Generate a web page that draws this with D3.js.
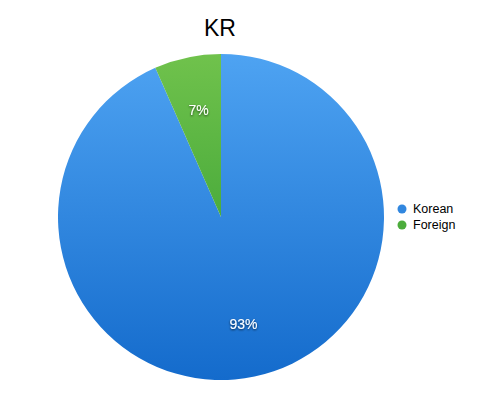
<!DOCTYPE html>
<html>
<head>
<meta charset="utf-8">
<script src="https://cdn.jsdelivr.net/npm/d3@7"></script>
<style>
  body { margin: 0; background: #fff; }
  text { font-family: "Liberation Sans", Arial, sans-serif; }
</style>
</head>
<body>
<div id="chart"></div>
<script>
// data
var categories = ["Korean", "Foreign"];
var values = [93.4, 6.6];
var colorsTop = ["#4ea3f2", "#70c24c"];
var colorsBottom = ["#146bcc", "#27962c"];

var w = 500, h = 400;
var cx = 221, cy = 217, r = 163;

var svg = d3.select("#chart")
  .append("svg")
  .attr("width", w)
  .attr("height", h);

// gradients for each slice (top light -> bottom dark)
var defs = svg.append("defs");
categories.forEach(function(c, i) {
  var grad = defs.append("linearGradient")
    .attr("id", "grad" + i)
    .attr("gradientUnits", "userSpaceOnUse")
    .attr("x1", 0).attr("y1", -r)
    .attr("x2", 0).attr("y2", r);
  grad.append("stop").attr("offset", "0%").attr("stop-color", colorsTop[i]);
  grad.append("stop").attr("offset", "100%").attr("stop-color", colorsBottom[i]);
});

var shadow = defs.append("filter").attr("id", "shadow")
  .attr("x", "-20%").attr("y", "-20%").attr("width", "140%").attr("height", "140%");
shadow.append("feDropShadow")
  .attr("dx", 0).attr("dy", 1).attr("stdDeviation", 0.8)
  .attr("flood-color", "#000").attr("flood-opacity", 0.7);

// title
svg.append("text")
  .attr("x", 220)
  .attr("y", 36)
  .attr("text-anchor", "middle")
  .style("font-size", "23px")
  .style("fill", "#000")
  .text("KR");

// pie, clockwise from 12 o'clock
var pie = d3.pie().sort(null).value(function(d) { return d; });
var arcs = pie(values);
var arc = d3.arc().innerRadius(0).outerRadius(r);
var labelArc = d3.arc().innerRadius(r * 0.67).outerRadius(r * 0.67);

var g = svg.append("g")
  .attr("transform", "translate(" + cx + "," + cy + ")");

g.selectAll("path")
  .data(arcs)
  .enter()
  .append("path")
  .attr("d", arc)
  .attr("fill", function(d, i) { return "url(#grad" + i + ")"; });

g.selectAll("text.pct")
  .data(arcs)
  .enter()
  .append("text")
  .attr("class", "pct")
  .attr("transform", function(d) {
    var c = labelArc.centroid(d);
    return "translate(" + c[0] + "," + c[1] + ")";
  })
  .attr("text-anchor", "middle")
  .attr("dy", "0.35em")
  .attr("filter", "url(#shadow)")
  .style("font-size", "14px")
  .style("fill", "#fff")
  .text(function(d) { return Math.round(d.value) + "%"; });

// legend
var legend = svg.append("g")
  .selectAll("g")
  .data(categories)
  .enter()
  .append("g")
  .attr("transform", function(d, i) { return "translate(402," + (209 + i * 16) + ")"; });

legend.append("circle")
  .attr("r", 4.5)
  .attr("fill", function(d, i) { return d3.interpolateRgb(colorsTop[i], colorsBottom[i])(0.5); });

legend.append("text")
  .attr("x", 11)
  .attr("dy", "0.35em")
  .style("font-size", "12.5px")
  .style("fill", "#000")
  .text(function(d) { return d; });
</script>
</body>
</html>
